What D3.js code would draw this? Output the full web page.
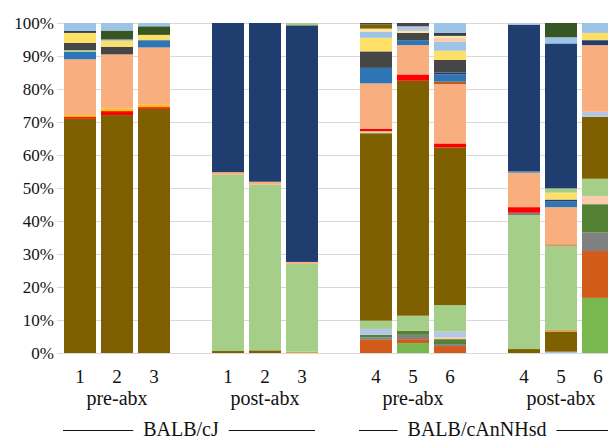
<!DOCTYPE html>
<html>
<head>
<meta charset="utf-8">
<script src="https://cdn.jsdelivr.net/npm/d3@7"></script>
<style>
  body { margin: 0; background: #fff; }
  svg { display: block; }
  text { font-family: "Liberation Serif", "Times New Roman", serif; fill: #111; }
</style>
</head>
<body>
<script>
const svgWidth = 608;
const svgHeight = 440;

// samples, left to right
const sampleIds = [
  'cJ-pre-1', 'cJ-pre-2', 'cJ-pre-3',
  'cJ-post-1', 'cJ-post-2', 'cJ-post-3',
  'cAn-pre-4', 'cAn-pre-5', 'cAn-pre-6',
  'cAn-post-4', 'cAn-post-5', 'cAn-post-6'
];
const sampleLabels = ['1', '2', '3', '1', '2', '3', '4', '5', '6', '4', '5', '6'];
const groupLabels = ['pre-abx', 'post-abx', 'pre-abx', 'post-abx'];
const strainLabels = ['BALB/cJ', 'BALB/cAnNHsd'];
const yTicks = [0, 10, 20, 30, 40, 50, 60, 70, 80, 90, 100];

// taxa in stacking order (bottom -> top), colours repeat like the excel palette
const taxa = [
  'OTU-00', 'OTU-01', 'OTU-02', 'OTU-03', 'OTU-04', 'OTU-05', 'OTU-06', 'OTU-07',
  'OTU-08', 'OTU-09', 'OTU-10', 'OTU-11', 'OTU-12', 'OTU-13', 'OTU-14', 'OTU-15',
  'OTU-16', 'OTU-17', 'OTU-18', 'OTU-19', 'OTU-20', 'OTU-21', 'OTU-22', 'OTU-23',
  'OTU-24', 'OTU-25', 'OTU-26', 'OTU-27', 'OTU-28', 'OTU-29', 'OTU-30', 'OTU-31',
  'OTU-32', 'OTU-33', 'OTU-34', 'OTU-35', 'OTU-36'
];
const taxaColors = [
  '#9DC3E6', '#7F6000', '#D9A441', '#78B84E', '#D35B1A', '#808080', '#548235', '#F8CBAD',
  '#B4C7E7', '#A5CF89', '#7F6000', '#C5E0B4', '#B4C7E7', '#808080', '#FF0000', '#FFC000',
  '#C9A26B', '#F9AE80', '#C55A11', '#8497B0', '#2E75B6', '#203D70', '#A5CF89', '#464646',
  '#FFE066', '#A5CF89', '#203D70', '#9DC3E6', '#F8CBAD', '#FFE699', '#333F50', '#B4C7E7',
  '#375623', '#9DC3E6', '#7F6000', '#464646', '#A5CF89'
];

// relative abundance (%) per taxon, one value per sample (same order as sampleIds)
const abundance = [
  [0, 0, 0, 0, 0, 0, 0, 0, 0, 0, 0.4, 0],
  [0, 0, 0, 0.6, 0.8, 0, 0, 0, 0, 1.2, 6.1, 0],
  [0, 0, 0, 0, 0, 0.4, 0, 0, 0, 0, 0.5, 0],
  [0, 0, 0, 0, 0, 0, 0, 3.0, 0, 0, 0, 16.7],
  [0, 0, 0, 0, 0, 0, 4.0, 1.2, 2.1, 0, 0, 14.2],
  [0, 0, 0, 0, 0, 0, 0.7, 1.3, 0.6, 0, 0, 5.6],
  [0, 0, 0, 0, 0, 0, 0.8, 1.2, 1.5, 0, 0, 8.6],
  [0, 0, 0, 0, 0, 0, 0, 0, 0.6, 0, 0, 2.5],
  [0, 0, 0, 0, 0, 0, 1.8, 0, 1.7, 0, 0, 0],
  [0, 0, 0, 53.4, 50.2, 26.6, 2.5, 4.6, 8.0, 40.6, 25.2, 5.2],
  [71.0, 72.1, 74.0, 0, 0, 0, 56.8, 71.2, 47.8, 0, 0, 18.8],
  [0, 0, 0, 0, 0, 0, 0.6, 0, 0, 0, 0, 0],
  [0, 0, 0, 0, 0, 0, 0, 0, 0, 0, 0, 1.5],
  [0, 0, 0, 0, 0, 0, 0, 0, 0, 0.7, 0, 0],
  [0.5, 1.2, 0.5, 0, 0, 0, 0.8, 1.9, 1.2, 1.7, 0, 0],
  [0.6, 0.8, 0.7, 0, 0, 0, 0, 0, 0, 0, 0, 0],
  [0, 0, 0, 0, 0, 0, 0, 0, 0, 0, 0.8, 0],
  [16.9, 16.4, 17.4, 0.8, 0.9, 0.6, 13.7, 8.9, 18.0, 10.3, 11.2, 20.2],
  [0, 0, 0, 0, 0, 0, 0, 0, 0.7, 0, 0, 0],
  [0, 0, 0, 0, 0, 0, 0, 0, 0, 0.5, 0, 0],
  [2.3, 0, 2.2, 0, 0, 0, 4.7, 1.5, 2.2, 0, 1.7, 0],
  [0, 0, 0, 0, 0, 0, 0, 0, 0.6, 0, 0.6, 1.5],
  [0.5, 0, 0, 0, 0, 0, 0, 0, 0, 0, 0, 0],
  [2.2, 2.3, 0, 0, 0, 0, 5.0, 2.2, 3.8, 0, 0, 0],
  [3.0, 1.8, 1.6, 0, 0, 0, 4.1, 0, 2.8, 0, 2.1, 2.2],
  [0, 0, 0, 0, 0, 0, 0, 0, 0, 0, 1.3, 0],
  [0, 0, 0, 45.2, 48.1, 71.7, 0, 0, 0, 44.5, 43.9, 0],
  [0, 0.4, 0, 0, 0, 0, 1.9, 0, 2.7, 0, 1.9, 3.0],
  [0, 0, 0, 0, 0, 0, 0, 0, 1.2, 0, 0, 0],
  [0, 0, 0, 0, 0, 0, 0.9, 0.6, 0.6, 0, 0, 0],
  [0.6, 0, 0, 0, 0, 0, 0, 0, 0.9, 0, 0, 0],
  [0, 0, 0, 0, 0, 0, 0, 1.4, 0, 0.5, 0, 0],
  [0, 2.7, 2.6, 0, 0, 0, 0, 0, 0, 0, 4.3, 0],
  [2.4, 2.3, 1.0, 0, 0, 0, 0, 0, 3.0, 0, 0, 0],
  [0, 0, 0, 0, 0, 0, 1.3, 0, 0, 0, 0, 0],
  [0, 0, 0, 0, 0, 0, 0.4, 1.0, 0, 0, 0, 0],
  [0, 0, 0, 0, 0, 0.7, 0, 0, 0, 0, 0, 0]
];

// slots along x: an empty slot between every group of three
const slots = [];
sampleIds.forEach((id, i) => {
  if (i > 0 && i % 3 === 0) slots.push(`gap-${i}`);
  slots.push(id);
});

const plot = { left: 64, right: 614, top: 23, bottom: 353 };

const svg = d3.select('body')
  .append('svg')
  .attr('width', svgWidth)
  .attr('height', svgHeight);

const x = d3.scaleBand()
  .domain(slots)
  .range([plot.left, plot.right])
  .paddingInner(0.135)
  .paddingOuter(0);

const y = d3.scaleLinear()
  .domain([0, 100])
  .range([plot.bottom, plot.top]);

// gridlines
svg.append('g')
  .attr('class', 'grid')
  .selectAll('line')
  .data(yTicks).enter()
  .append('line')
  .attr('x1', 57)
  .attr('x2', svgWidth)
  .attr('y1', (d) => y(d) + 0.5)
  .attr('y2', (d) => y(d) + 0.5)
  .attr('stroke', '#d9d9d9')
  .attr('stroke-width', 1);

// y axis labels
const yAxis = svg.append('g')
  .attr('transform', 'translate(54,0)')
  .call(d3.axisLeft(y).tickValues(yTicks).tickSize(0).tickPadding(0).tickFormat((d) => `${d}%`));
yAxis.select('.domain').remove();
yAxis.selectAll('text')
  .attr('font-family', '"Liberation Serif", serif')
  .attr('font-size', 17)
  .attr('fill', '#222');

// stacked bars
const table = sampleIds.map((id, i) => {
  const row = { id };
  taxa.forEach((t, k) => { row[t] = abundance[k][i]; });
  return row;
});
const series = d3.stack().keys(taxa)(table);

const bars = svg.append('g').attr('class', 'bars');
series.forEach((s, k) => {
  bars.append('g')
    .attr('fill', taxaColors[k])
    .selectAll('rect')
    .data(s.filter((d) => d[1] - d[0] > 0))
    .enter()
    .append('rect')
    .attr('x', (d) => x(d.data.id))
    .attr('width', x.bandwidth())
    .attr('y', (d) => y(d[1]))
    .attr('height', (d) => y(d[0]) - y(d[1]));
});

// sample numbers
svg.append('g')
  .selectAll('text')
  .data(sampleIds).enter()
  .append('text')
  .attr('x', (d) => x(d) + x.bandwidth() / 2)
  .attr('y', 383)
  .attr('text-anchor', 'middle')
  .attr('font-size', 19)
  .text((d, i) => sampleLabels[i]);

// group labels (pre/post)
svg.append('g')
  .selectAll('text')
  .data(groupLabels).enter()
  .append('text')
  .attr('x', (d, i) => {
    const mid = sampleIds[i * 3 + 1];
    return x(mid) + x.bandwidth() / 2;
  })
  .attr('y', 405)
  .attr('text-anchor', 'middle')
  .attr('font-size', 20)
  .text((d) => d);

// strain labels with rules either side
strainLabels.forEach((label, i) => {
  const first = sampleIds[i * 6];
  const last = sampleIds[i * 6 + 5];
  const x0 = x(first) - 1;
  const x1 = x(last) + x.bandwidth() - 3;
  const cx = (x0 + x1) / 2 - 8;
  const t = svg.append('text')
    .attr('x', cx)
    .attr('y', 436)
    .attr('text-anchor', 'middle')
    .attr('font-size', 20)
    .text(label);
  const w = t.node().getComputedTextLength();
  const gap = 10;
  svg.append('line')
    .attr('x1', x0).attr('x2', cx - w / 2 - gap)
    .attr('y1', 430.5).attr('y2', 430.5)
    .attr('stroke', '#111').attr('stroke-width', 1.2);
  svg.append('line')
    .attr('x1', cx + w / 2 + gap).attr('x2', x1)
    .attr('y1', 430.5).attr('y2', 430.5)
    .attr('stroke', '#111').attr('stroke-width', 1.2);
});
</script>
</body>
</html>
